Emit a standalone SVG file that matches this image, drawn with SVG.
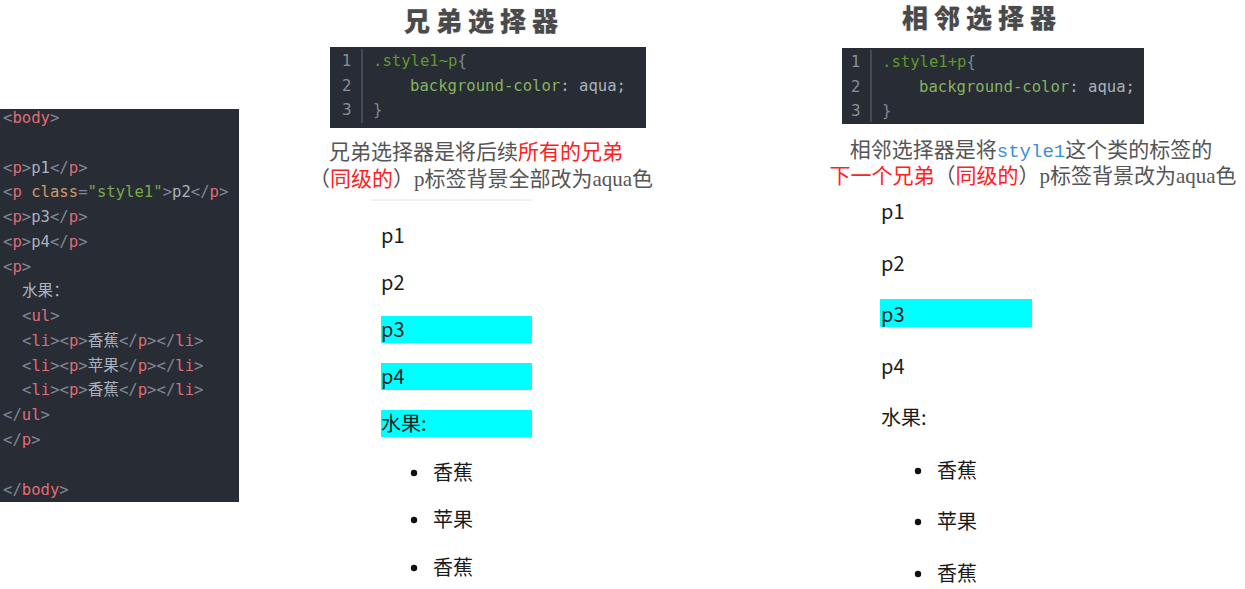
<svg xmlns="http://www.w3.org/2000/svg" width="1245" height="589" viewBox="0 0 1245 589">
<style>
.panel{fill:#282c34}
.code{font-family:"DejaVu Sans Mono","Noto Sans CJK SC",monospace;font-size:15.6px;fill:#abb2bf}
.br{fill:#7f8896}
.tg{fill:#e06c75}
.at{fill:#d19a66}
.st{fill:#79a948}
.sel{fill:#62982f}
.prop{fill:#88b260}
.ln{font-family:"DejaVu Sans","Noto Sans",sans-serif;font-size:15px;fill:#8a929c}
.gut{stroke:#5a606a;stroke-width:1.2}
.title{font-family:"Noto Sans CJK SC",sans-serif;font-weight:900;font-size:26px;fill:#4a4a4a;letter-spacing:6px;stroke:#cfd6dc;stroke-width:0.6px;paint-order:stroke}
.cap{font-family:"Liberation Serif","Noto Sans CJK SC",serif;font-size:21px;fill:#555}
.red{fill:#ff2020}
.blue{fill:#3b8fd8;font-family:"Liberation Mono",monospace;font-size:19px}
.out{font-family:"Noto Sans CJK SC","Noto Sans",sans-serif;font-size:20px;fill:#1a1a1a}
.aqua{fill:#00ffff}
.dot{fill:#111}
</style>

<g id="html-code">
<rect class="panel" x="0" y="109" width="239" height="393"/>
<text class="code" x="3" y="123"><tspan class="br">&lt;</tspan><tspan class="tg">body</tspan><tspan class="br">&gt;</tspan></text>
<text class="code" x="3" y="172.5"><tspan class="br">&lt;</tspan><tspan class="tg">p</tspan><tspan class="br">&gt;</tspan>p1<tspan class="br">&lt;/</tspan><tspan class="tg">p</tspan><tspan class="br">&gt;</tspan></text>
<text class="code" x="3" y="197"><tspan class="br">&lt;</tspan><tspan class="tg">p</tspan> <tspan class="at">class</tspan><tspan class="br">=</tspan><tspan class="st">"style1"</tspan><tspan class="br">&gt;</tspan>p2<tspan class="br">&lt;/</tspan><tspan class="tg">p</tspan><tspan class="br">&gt;</tspan></text>
<text class="code" x="3" y="222"><tspan class="br">&lt;</tspan><tspan class="tg">p</tspan><tspan class="br">&gt;</tspan>p3<tspan class="br">&lt;/</tspan><tspan class="tg">p</tspan><tspan class="br">&gt;</tspan></text>
<text class="code" x="3" y="247"><tspan class="br">&lt;</tspan><tspan class="tg">p</tspan><tspan class="br">&gt;</tspan>p4<tspan class="br">&lt;/</tspan><tspan class="tg">p</tspan><tspan class="br">&gt;</tspan></text>
<text class="code" x="3" y="271.5"><tspan class="br">&lt;</tspan><tspan class="tg">p</tspan><tspan class="br">&gt;</tspan></text>
<text class="code" x="22" y="296">水果：</text>
<text class="code" x="22" y="321"><tspan class="br">&lt;</tspan><tspan class="tg">ul</tspan><tspan class="br">&gt;</tspan></text>
<text class="code" x="22" y="346"><tspan class="br">&lt;</tspan><tspan class="tg">li</tspan><tspan class="br">&gt;&lt;</tspan><tspan class="tg">p</tspan><tspan class="br">&gt;</tspan>香蕉<tspan class="br">&lt;/</tspan><tspan class="tg">p</tspan><tspan class="br">&gt;&lt;/</tspan><tspan class="tg">li</tspan><tspan class="br">&gt;</tspan></text>
<text class="code" x="22" y="370.5"><tspan class="br">&lt;</tspan><tspan class="tg">li</tspan><tspan class="br">&gt;&lt;</tspan><tspan class="tg">p</tspan><tspan class="br">&gt;</tspan>苹果<tspan class="br">&lt;/</tspan><tspan class="tg">p</tspan><tspan class="br">&gt;&lt;/</tspan><tspan class="tg">li</tspan><tspan class="br">&gt;</tspan></text>
<text class="code" x="22" y="395"><tspan class="br">&lt;</tspan><tspan class="tg">li</tspan><tspan class="br">&gt;&lt;</tspan><tspan class="tg">p</tspan><tspan class="br">&gt;</tspan>香蕉<tspan class="br">&lt;/</tspan><tspan class="tg">p</tspan><tspan class="br">&gt;&lt;/</tspan><tspan class="tg">li</tspan><tspan class="br">&gt;</tspan></text>
<text class="code" x="3" y="420"><tspan class="br">&lt;/</tspan><tspan class="tg">ul</tspan><tspan class="br">&gt;</tspan></text>
<text class="code" x="3" y="445"><tspan class="br">&lt;/</tspan><tspan class="tg">p</tspan><tspan class="br">&gt;</tspan></text>
<text class="code" x="3" y="495"><tspan class="br">&lt;/</tspan><tspan class="tg">body</tspan><tspan class="br">&gt;</tspan></text>
</g>

<g id="sibling-selector">
<text class="title" x="484" y="31" text-anchor="middle">兄弟选择器</text>
<rect class="panel" x="330" y="47" width="316" height="81"/>
<line class="gut" x1="362" y1="49" x2="362" y2="123"/>
<text class="ln" x="342" y="66">1</text>
<text class="ln" x="342" y="90.5">2</text>
<text class="ln" x="342" y="115">3</text>
<text class="code" x="373" y="66"><tspan class="sel">.style1~p</tspan><tspan class="br">{</tspan></text>
<text class="code" x="410" y="90.5"><tspan class="prop">background-color</tspan>: aqua;</text>
<text class="code br" x="373" y="115">}</text>
<text class="cap" x="476" y="159" text-anchor="middle">兄弟选择器是将后续<tspan class="red">所有的兄弟</tspan></text>
<text class="cap" x="481" y="186" text-anchor="middle">（<tspan class="red">同级的</tspan>）p标签背景全部改为aqua色</text>
<line x1="371" y1="200" x2="531" y2="200" stroke="#e2e2e2" stroke-width="1"/>
<rect class="aqua" x="381" y="316" width="151" height="27"/>
<rect class="aqua" x="381" y="363" width="151" height="27"/>
<rect class="aqua" x="381" y="410" width="151" height="27"/>
<text class="out" x="381" y="243">p1</text>
<text class="out" x="381" y="290">p2</text>
<text class="out" x="381" y="337">p3</text>
<text class="out" x="381" y="384">p4</text>
<text class="out" x="381" y="431">水果:</text>
<circle class="dot" cx="414" cy="473" r="3.2"/>
<circle class="dot" cx="414" cy="520" r="3.2"/>
<circle class="dot" cx="414" cy="568" r="3.2"/>
<text class="out" x="433" y="480">香蕉</text>
<text class="out" x="433" y="527">苹果</text>
<text class="out" x="433" y="575">香蕉</text>
</g>

<g id="adjacent-selector">
<text class="title" x="982" y="28" text-anchor="middle">相邻选择器</text>
<rect class="panel" x="842" y="48" width="302" height="76"/>
<line class="gut" x1="871" y1="50" x2="871" y2="122"/>
<text class="ln" x="851" y="67">1</text>
<text class="ln" x="851" y="91.5">2</text>
<text class="ln" x="851" y="116">3</text>
<text class="code" x="882" y="67"><tspan class="sel">.style1+p</tspan><tspan class="br">{</tspan></text>
<text class="code" x="919" y="91.5"><tspan class="prop">background-color</tspan>: aqua;</text>
<text class="code br" x="882" y="116">}</text>
<text class="cap" x="1031" y="157" text-anchor="middle">相邻选择器是将<tspan class="blue">style1</tspan>这个类的标签的</text>
<text class="cap" x="1033" y="183" text-anchor="middle"><tspan class="red">下一个兄弟</tspan>（<tspan class="red">同级的</tspan>）p标签背景改为aqua色</text>
<rect class="aqua" x="880" y="299" width="152" height="28"/>
<text class="out" x="881" y="219">p1</text>
<text class="out" x="881" y="271">p2</text>
<text class="out" x="881" y="322">p3</text>
<text class="out" x="881" y="374">p4</text>
<text class="out" x="881" y="425">水果:</text>
<circle class="dot" cx="918" cy="471" r="3.2"/>
<circle class="dot" cx="918" cy="522" r="3.2"/>
<circle class="dot" cx="918" cy="574" r="3.2"/>
<text class="out" x="937" y="478">香蕉</text>
<text class="out" x="937" y="529">苹果</text>
<text class="out" x="937" y="581">香蕉</text>
</g>
</svg>
